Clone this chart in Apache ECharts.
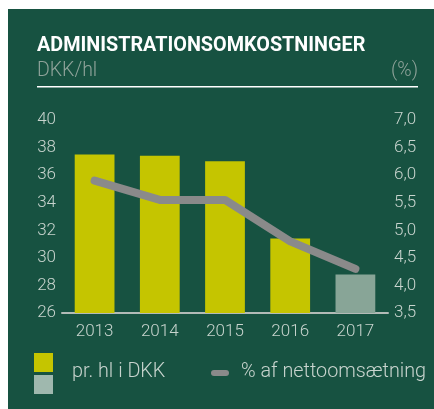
<!DOCTYPE html>
<html><head><meta charset="utf-8">
<script src="https://cdn.jsdelivr.net/npm/echarts@6/dist/echarts.min.js"></script>
<style>html,body{margin:0;padding:0;background:#fff;}#c{width:434px;height:409px;}</style>
</head><body><div id="c"></div>
<script>
const years = ['2013','2014','2015','2016','2017'];
const perHl = [37.5, 37.4, 37.0, 31.4, 28.8];
const pctNet = [5.9, 5.55, 5.55, 4.8, 4.3];
const leftTicks = [26, 40, 2];
const rightTicks = [3.5, 7.0, 0.5];

const FONT = 'Roboto';
const chart = echarts.init(document.getElementById('c'), null, {renderer: 'canvas'});
chart.setOption({
  backgroundColor: '#ffffff',
  animation: false,
  graphic: [
    {type: 'rect', z: -10, shape: {x: 8, y: 9, width: 426, height: 400}, style: {fill: '#175241'}},
    {type: 'text', left: 37, top: 36, style: {text: 'ADMINISTRATIONSOMKOSTNINGER', fill: '#ffffff', font: 'bold 19.8px ' + FONT}},
    {type: 'text', left: 37, top: 61, style: {text: 'DKK/hl', fill: '#8fa39a', font: '300 19.5px ' + FONT}},
    {type: 'text', right: 16, top: 61, style: {text: '(%)', fill: '#8fa39a', font: '300 19.5px ' + FONT}},
    {type: 'rect', shape: {x: 37, y: 86, width: 381, height: 1.5}, style: {fill: '#ffffff'}},
    {type: 'rect', shape: {x: 34, y: 353, width: 19, height: 19}, style: {fill: '#c5c500'}},
    {type: 'rect', shape: {x: 34, y: 375, width: 19, height: 19}, style: {fill: '#9fb8ae'}},
    {type: 'text', left: 72, top: 362, style: {text: 'pr. hl i DKK', fill: '#c8d4ce', font: '300 19.8px ' + FONT}},
    {type: 'rect', shape: {x: 211, y: 370, width: 18, height: 6, r: 3}, style: {fill: '#8a8a8a'}},
    {type: 'text', left: 241, top: 362, style: {text: '% af nettoomsætning', fill: '#c8d4ce', font: '300 19.8px ' + FONT}}
  ],
  grid: {left: 62, right: 46, top: 120, bottom: 96},
  xAxis: {
    type: 'category', data: years,
    axisLine: {lineStyle: {color: '#b3bbb7', width: 2}},
    axisTick: {show: false},
    axisLabel: {color: '#c8d4ce', fontSize: 17, fontFamily: FONT, fontWeight: 300, margin: 10}
  },
  yAxis: [
    {type: 'value', min: leftTicks[0], max: leftTicks[1], interval: leftTicks[2],
     splitLine: {show: false}, axisLine: {show: false}, axisTick: {show: false},
     axisLabel: {color: '#c8d4ce', fontSize: 17, fontFamily: FONT, fontWeight: 300, margin: 6}},
    {type: 'value', min: rightTicks[0], max: rightTicks[1], interval: rightTicks[2],
     splitLine: {show: false}, axisLine: {show: false}, axisTick: {show: false},
     axisLabel: {color: '#c8d4ce', fontSize: 17, fontFamily: FONT, fontWeight: 300, margin: 6,
       formatter: v => v.toFixed(1).replace('.', ',')}}
  ],
  series: [
    {type: 'bar', name: 'pr. hl i DKK', yAxisIndex: 0, barCategoryGap: '39%',
     data: perHl.map((v, i) => ({value: v, itemStyle: {color: i === perHl.length - 1 ? '#88a597' : '#c5c500'}}))},
    {type: 'line', name: '% af nettoomsætning', yAxisIndex: 1, data: pctNet, z: 5,
     symbol: 'none', lineStyle: {color: '#8a8a8a', width: 8, cap: 'round', join: 'round'}}
  ]
});
</script></body></html>
